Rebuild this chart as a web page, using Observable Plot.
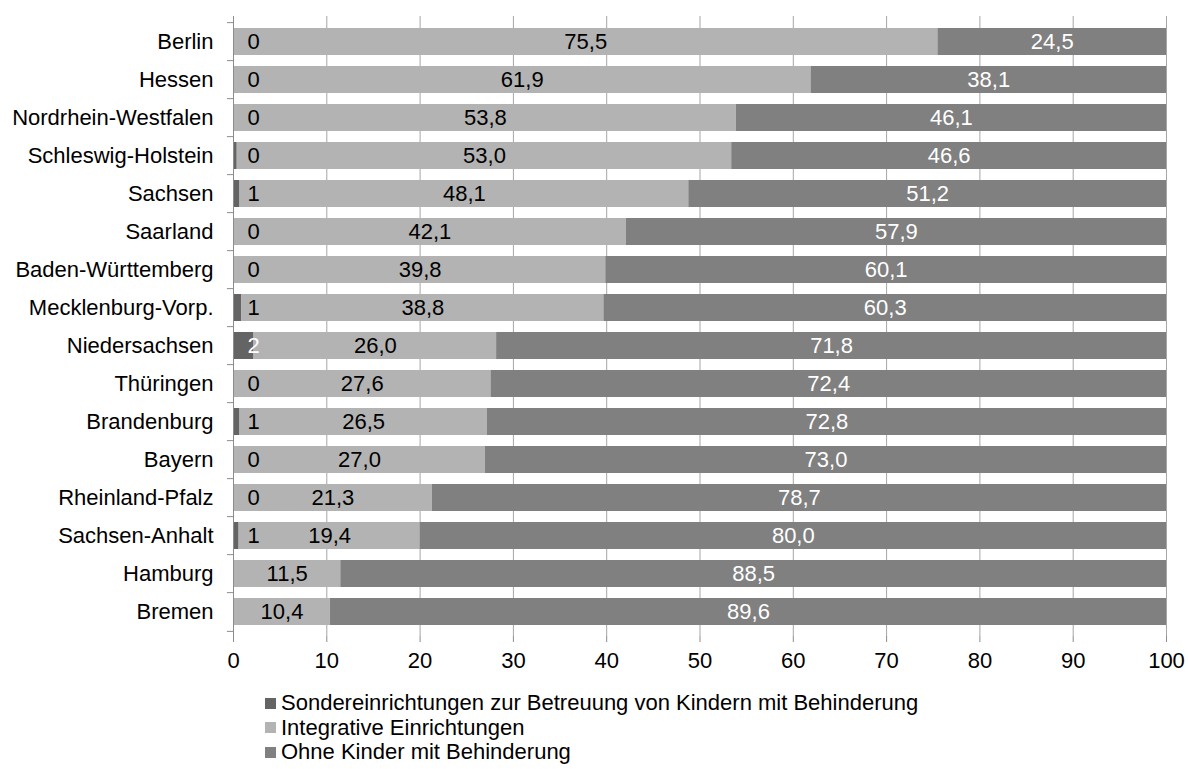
<!DOCTYPE html>
<html>
<head>
<meta charset="utf-8">
<script src="https://cdn.jsdelivr.net/npm/d3@7"></script>
<script src="https://cdn.jsdelivr.net/npm/@observablehq/plot@0.6"></script>
<style>
  body { margin: 0; background: white; font-family: "Liberation Sans", Arial, sans-serif; }
  #legend { margin-left: 265px; margin-top: 11px; font-size: 22px; line-height: 24.5px; color: #000; }
  #legend .item { display: flex; align-items: center; }
  #legend .sw { width: 11px; height: 11px; margin-right: 5px; display: inline-block; }
</style>
</head>
<body>
<div id="chart"></div>
<div id="legend"></div>
<script>
const states = ["Berlin","Hessen","Nordrhein-Westfalen","Schleswig-Holstein","Sachsen","Saarland","Baden-Württemberg","Mecklenburg-Vorp.","Niedersachsen","Thüringen","Brandenburg","Bayern","Rheinland-Pfalz","Sachsen-Anhalt","Hamburg","Bremen"];
const sonder = [0, 0, 0.1, 0.4, 0.7, 0, 0.1, 0.9, 2.2, 0, 0.7, 0, 0, 0.6, null, null];
const integrativ = [75.5, 61.9, 53.8, 53.0, 48.1, 42.1, 39.8, 38.8, 26.0, 27.6, 26.5, 27.0, 21.3, 19.4, 11.5, 10.4];
const ohne = [24.5, 38.1, 46.1, 46.6, 51.2, 57.9, 60.1, 60.3, 71.8, 72.4, 72.8, 73.0, 78.7, 80.0, 88.5, 89.6];
const seriesNames = ["Sondereinrichtungen zur Betreuung von Kindern mit Behinderung","Integrative Einrichtungen","Ohne Kinder mit Behinderung"];
const seriesColors = ["#646464","#b3b3b3","#808080"];
const xTicks = [0,10,20,30,40,50,60,70,80,90,100];

const long = [];
states.forEach((s, i) => {
  long.push({state: s, series: seriesNames[0], value: sonder[i] ?? 0});
  long.push({state: s, series: seriesNames[1], value: integrativ[i]});
  long.push({state: s, series: seriesNames[2], value: ohne[i]});
});
const fmt = v => v.toFixed(1).replace(".", ",");
const sonderRows = states.map((s, i) => ({state: s, value: sonder[i]})).filter(d => d.value != null);

const step = (680 - 16 - 44) / states.length;

const chart = Plot.plot({
  width: 1189,
  height: 680,
  marginLeft: 233,
  marginRight: 23,
  marginTop: 16,
  marginBottom: 44,
  style: {fontFamily: "Liberation Sans, Arial, sans-serif", fontSize: "22px", color: "#000", background: "white"},
  x: {domain: [0, 100]},
  y: {domain: states, paddingInner: 0.3, paddingOuter: 0.15},
  color: {domain: seriesNames, range: seriesColors},
  marks: [
    Plot.gridX(xTicks, {stroke: "#a6a6a6", strokeOpacity: 1}),
    Plot.axisX(xTicks, {tickSize: 6, tickPadding: 10, stroke: "#8c8c8c", label: null}),
    Plot.axisY({tickSize: 0, tickPadding: 20, label: null}),
    Plot.barX(long, Plot.stackX({y: "state", x: "value", z: "series", fill: "series"})),
    Plot.ruleX([0], {stroke: "#8c8c8c"}),
    Plot.ruleY(states, {y: d => d, x1: 0, x2: 0, insetLeft: -6, dy: -step / 2, stroke: "#8c8c8c"}),
    Plot.ruleY(states.slice(-1), {y: d => d, x1: 0, x2: 0, insetLeft: -6, dy: step / 2, stroke: "#8c8c8c"}),
    Plot.text(long, Plot.stackX({y: "state", x: "value", z: "series",
      text: d => d.series === seriesNames[1] ? fmt(d.value) : "", fill: "#000", fontSize: 22})),
    Plot.text(long, Plot.stackX({y: "state", x: "value", z: "series",
      text: d => d.series === seriesNames[2] ? fmt(d.value) : "", fill: "#fff", fontSize: 22})),
    Plot.text(sonderRows, {y: "state", x: 0, text: d => String(Math.round(d.value)), textAnchor: "start", dx: 14,
      fill: d => d.value >= 1.5 ? "#fff" : "#000", fontSize: 22})
  ]
});
document.getElementById("chart").appendChild(chart);

const legend = document.getElementById("legend");
seriesNames.forEach((n, i) => {
  const it = document.createElement("div");
  it.className = "item";
  const sw = document.createElement("span");
  sw.className = "sw";
  sw.style.background = seriesColors[i];
  it.appendChild(sw);
  it.appendChild(document.createTextNode(n));
  legend.appendChild(it);
});
</script>
</body>
</html>
